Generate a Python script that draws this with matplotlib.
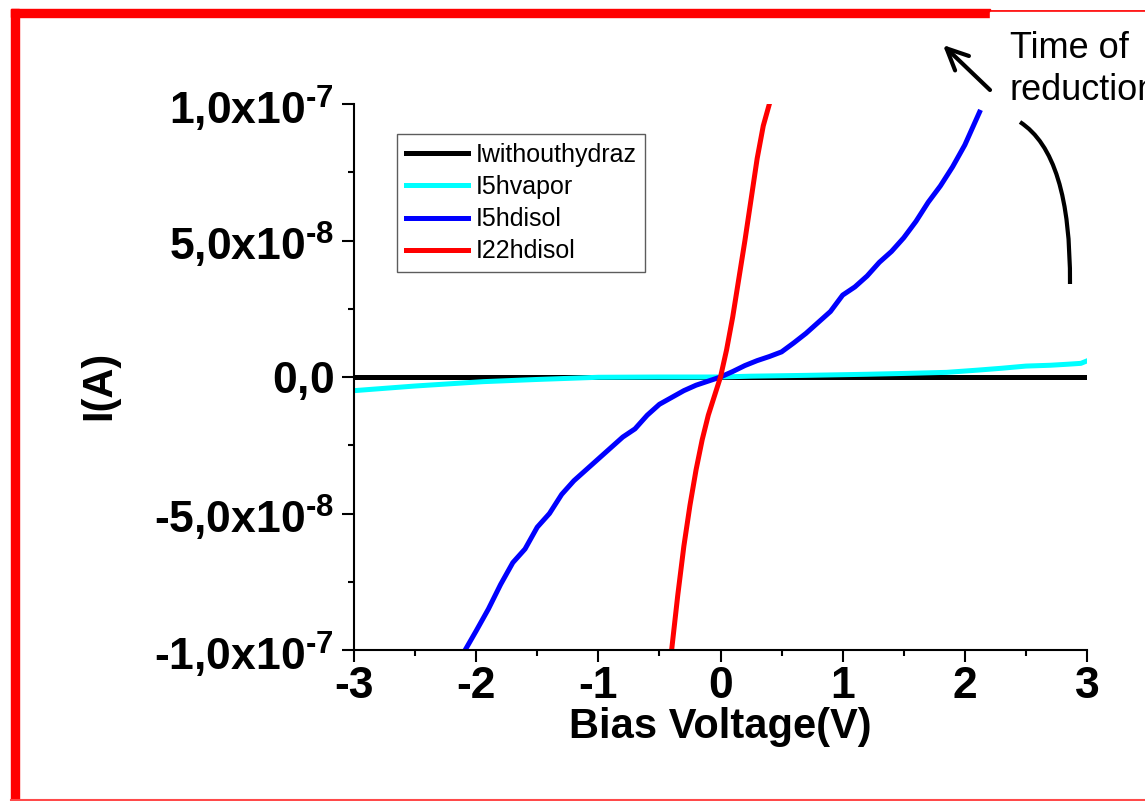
import matplotlib.pyplot as plt
from matplotlib.ticker import AutoMinorLocator, FixedLocator, FixedFormatter
from matplotlib.patches import Rectangle, FancyArrowPatch, PathPatch
from matplotlib.path import Path
from matplotlib.lines import Line2D

plt.rcParams['font.family'] = ['Liberation Sans', 'DejaVu Sans']
plt.rcParams['mathtext.default'] = 'regular'

# I-V curves, voltage in V, current in A
v_without = [-3.0, -2.0, -1.0, 0.0, 1.0, 2.0, 3.0]
i_without = [0.0, 0.0, 0.0, 0.0, 0.0, 0.0, 0.0]

v_5hvapor = [-3.0, -2.5, -1.94, -1.5, -1.0, -0.5, 0.0, 0.25, 0.7, 1.2, 1.5,
             1.85, 2.1, 2.3, 2.5, 2.7, 2.85, 2.95, 3.0]
i_5hvapor = [-5.0e-9, -3.3e-9, -1.7e-9, -0.9e-9, -0.1e-9, 0.0, 0.0, 0.3e-9,
             0.6e-9, 1.0e-9, 1.3e-9, 1.7e-9, 2.5e-9, 3.2e-9, 4.0e-9, 4.3e-9,
             4.7e-9, 5.0e-9, 5.9e-9]

v_5hdisol = [-2.09, -2.0, -1.9, -1.8, -1.7, -1.6, -1.5, -1.4, -1.3, -1.2, -1.1,
             -1.0, -0.9, -0.8, -0.7, -0.6, -0.5, -0.4, -0.3, -0.2, -0.1, 0.0,
             0.1, 0.2, 0.3, 0.4, 0.5, 0.6, 0.7, 0.8, 0.9, 1.0, 1.1, 1.2, 1.3,
             1.4, 1.5, 1.6, 1.7, 1.8, 1.9, 2.0, 2.12]
i_5hdisol = [-10.0e-8, -9.3e-8, -8.5e-8, -7.6e-8, -6.8e-8, -6.3e-8, -5.5e-8,
             -5.0e-8, -4.3e-8, -3.8e-8, -3.4e-8, -3.0e-8, -2.6e-8, -2.2e-8,
             -1.9e-8, -1.4e-8, -1.0e-8, -0.75e-8, -0.5e-8, -0.3e-8, -0.15e-8,
             0.0, 0.2e-8, 0.42e-8, 0.6e-8, 0.75e-8, 0.92e-8, 1.25e-8, 1.6e-8,
             2.0e-8, 2.4e-8, 3.0e-8, 3.3e-8, 3.7e-8, 4.2e-8, 4.6e-8, 5.1e-8,
             5.7e-8, 6.4e-8, 7.0e-8, 7.7e-8, 8.5e-8, 9.7e-8]

v_22hdisol = [-0.40, -0.35, -0.30, -0.25, -0.20, -0.15, -0.10, -0.05, 0.0,
              0.05, 0.10, 0.15, 0.20, 0.25, 0.30, 0.35, 0.40]
i_22hdisol = [-10.0e-8, -8.0e-8, -6.2e-8, -4.7e-8, -3.4e-8, -2.3e-8, -1.4e-8,
              -0.7e-8, 0.0, 1.0e-8, 2.2e-8, 3.6e-8, 5.0e-8, 6.5e-8, 8.0e-8,
              9.2e-8, 10.0e-8]

x_ticks = [-3, -2, -1, 0, 1, 2, 3]
y_ticks = [-1e-7, -5e-8, 0, 5e-8, 1e-7]
# U+2010 hyphen keeps the short dash of the original labels
y_tick_labels = ['$\u20101{,}0x10^{\u20107}$', '$\u20105{,}0x10^{\u20108}$', '$0{,}0$',
                 '$5{,}0x10^{\u20108}$', '$1{,}0x10^{\u20107}$']

W, H = 1145, 801


def px(x, y):
    return (x / W, 1 - y / H)


fig = plt.figure(figsize=(W / 100, H / 100), dpi=100)
ax = fig.add_axes([354 / W, 1 - 650 / H, (1087 - 354) / W, (650 - 104) / H])

lw = 3.6
ax.plot(v_without, i_without, color='black', lw=lw, label='Iwithouthydraz')
ax.plot(v_5hvapor, i_5hvapor, color='#00ffff', lw=lw, label='I5hvapor')
ax.plot(v_5hdisol, i_5hdisol, color='#0000ff', lw=lw, label='I5hdisol')
ax.plot(v_22hdisol, i_22hdisol, color='#ff0000', lw=lw, label='I22hdisol')

ax.set_xlim(-3, 3)
ax.set_ylim(-1e-7, 1e-7)
ax.xaxis.set_major_locator(FixedLocator(x_ticks))
ax.set_xticklabels([str(t) for t in x_ticks])
ax.yaxis.set_major_locator(FixedLocator(y_ticks))
ax.yaxis.set_major_formatter(FixedFormatter(y_tick_labels))
ax.xaxis.set_minor_locator(AutoMinorLocator(2))
ax.yaxis.set_minor_locator(AutoMinorLocator(2))

for s in ['top', 'right']:
    ax.spines[s].set_visible(False)
for s in ['left', 'bottom']:
    ax.spines[s].set_linewidth(1.5)

ax.tick_params(which='major', direction='out', length=8.5, width=1.5,
               labelsize=32)
ax.tick_params(which='minor', direction='out', length=4, width=1.5)
ax.tick_params(axis='y', pad=6)
ax.tick_params(axis='x', pad=3)
for lab in ax.get_xticklabels() + ax.get_yticklabels():
    lab.set_fontweight('bold')

ax.set_xlabel('Bias Voltage(V)', fontsize=30, fontweight='bold')
ax.set_ylabel('I(A)', fontsize=30, fontweight='bold')
ax.xaxis.set_label_coords(0.5, -0.105)
ax.yaxis.set_label_coords(-0.32, 0.485)

leg = ax.legend(loc='upper left', bbox_to_anchor=((397 - 354) / 733, (650 - 134) / 546),
                borderaxespad=0, fontsize=18, frameon=True, fancybox=False,
                handlelength=2.5, handletextpad=0.28, borderpad=0.35,
                labelspacing=0.33)
leg.get_frame().set_edgecolor('#333333')
leg.get_frame().set_linewidth(1.0)

# red frame around the slide
fig.add_artist(Rectangle(px(11, 801), 8 / W, (801 - 9) / H, color='red',
                         transform=fig.transFigure, zorder=5))
fig.add_artist(Rectangle(px(11, 17), (990 - 11) / W, 8 / H, color='red',
                         transform=fig.transFigure, zorder=5))
fig.add_artist(Line2D([990 / W, 1.0], [1 - 10.5 / H] * 2, color='red', lw=2,
                      transform=fig.transFigure, zorder=5))
fig.add_artist(Line2D([11 / W, 1.0], [1 - 799.5 / H] * 2, color='#ff4a4a', lw=1.5,
                      transform=fig.transFigure, zorder=5))

# "Time of reduction" callout, cut by the right edge as in the original
fig.add_artist(Rectangle(px(990, 120), (W - 990) / W, (120 - 12) / H,
                         color='white', transform=fig.transFigure, zorder=6))
fig.text(*px(1010, 58), 'Time of', fontsize=26, va='baseline', ha='left', zorder=7)
fig.text(*px(1010, 100), 'reduction', fontsize=26, va='baseline', ha='left', zorder=7)
fig.add_artist(FancyArrowPatch(px(990, 90), px(943, 45), transform=fig.transFigure,
                               arrowstyle='->,head_length=0.77,head_width=0.36',
                               mutation_scale=20, lw=3, color='black', zorder=7,
                               shrinkA=0, shrinkB=0))
curve = Path([px(1020, 122), px(1071, 155), px(1070, 284)],
             [Path.MOVETO, Path.CURVE3, Path.CURVE3])
fig.add_artist(PathPatch(curve, fill=False, lw=3, color='black',
                         transform=fig.transFigure, zorder=7))

fig.savefig('out.png', dpi=100)
